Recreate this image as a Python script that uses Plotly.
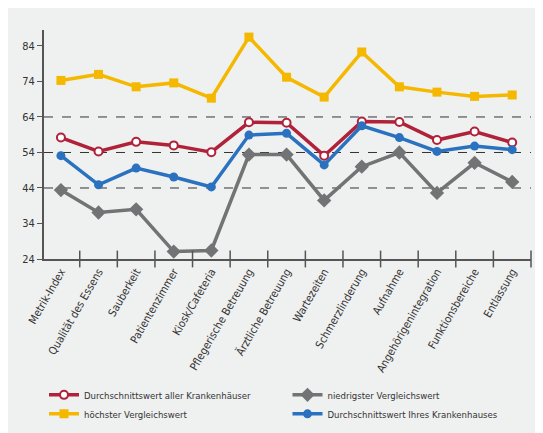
import plotly.graph_objects as go

categories = ["Metrik-Index", "Qualität des Essens", "Sauberkeit", "Patientenzimmer",
              "Kiosk/Cafeteria", "Pflegerische Betreuung", "Ärztliche Betreuung",
              "Wartezeiten", "Schmerzlinderung", "Aufnahme", "Angehörigenintegration",
              "Funktionsbereiche", "Entlassung"]
hoechst = [74.3, 76, 72.5, 73.6, 69.3, 86.5, 75.2, 69.6, 82.3, 72.5, 71, 69.8, 70.2]
alle = [58.2, 54.3, 57, 56, 54.1, 62.5, 62.4, 53.1, 62.7, 62.6, 57.5, 59.9, 56.8]
ihres = [53.1, 44.9, 49.6, 47.1, 44.3, 58.9, 59.4, 50.5, 61.5, 58.2, 54.3, 55.8, 54.8]
niedrig = [43.4, 37.1, 38, 26.1, 26.4, 53.4, 53.4, 40.5, 50, 54, 42.6, 51.1, 45.7]
y_ticks = [24, 34, 44, 54, 64, 74, 84]

x = list(range(len(categories)))
fig = go.Figure()
fig.add_trace(go.Scatter(x=x, y=alle, name="Durchschnittswert aller Krankenhäuser",
                         mode="lines+markers", line=dict(color="#b0223a", width=3.5),
                         marker=dict(symbol="circle", size=8, color="white",
                                     line=dict(color="#b0223a", width=2))))
fig.add_trace(go.Scatter(x=x, y=niedrig, name="niedrigster Vergleichswert",
                         mode="lines+markers", line=dict(color="#717374", width=3.5),
                         marker=dict(symbol="diamond", size=11, color="#717374")))
fig.add_trace(go.Scatter(x=x, y=hoechst, name="höchster Vergleichswert",
                         mode="lines+markers", line=dict(color="#f5b800", width=3.5),
                         marker=dict(symbol="square", size=9, color="#f5b800")))
fig.add_trace(go.Scatter(x=x, y=ihres, name="Durchschnittswert Ihres Krankenhauses",
                         mode="lines+markers", line=dict(color="#2a72c0", width=3.5),
                         marker=dict(symbol="circle", size=9, color="#2a72c0")))

for v in [44, 54, 64]:
    fig.add_shape(type="line", xref="paper", x0=0, x1=1, y0=v, y1=v,
                  line=dict(color="#333", width=1, dash="dash"), layer="below")

fig.update_xaxes(range=[-0.45, 12.5], tickvals=x, ticktext=categories, tickangle=-60,
                 showgrid=False, showline=True, linecolor="#555", linewidth=2,
                 ticks="", zeroline=False, tickfont=dict(size=11))
# tick marks between categories
fig.add_trace(go.Scatter(x=[i + 0.5 for i in x], y=[24] * len(x), mode="markers",
                         marker=dict(symbol="line-ns", size=12, line=dict(color="#555", width=1.5)),
                         showlegend=False, hoverinfo="skip", cliponaxis=False))
fig.update_yaxes(range=[24, 88.5], tickvals=y_ticks, showgrid=False, showline=True,
                 linecolor="#555", linewidth=2, ticks="outside", ticklen=5,
                 tickcolor="#555", zeroline=False, tickfont=dict(size=11))

fig.update_layout(width=543, height=433, margin=dict(l=36, r=20, t=22, b=172),
                  paper_bgcolor="#eff0f0", plot_bgcolor="#eff0f0",
                  font=dict(family="DejaVu Sans Condensed", size=10, color="#333"),
                  legend=dict(orientation="h", x=0.0, y=-0.53, yanchor="top",
                              entrywidth=0.5, entrywidthmode="fraction",
                              font=dict(size=9.5), bgcolor="rgba(0,0,0,0)"))
fig.write_html("out.html")
